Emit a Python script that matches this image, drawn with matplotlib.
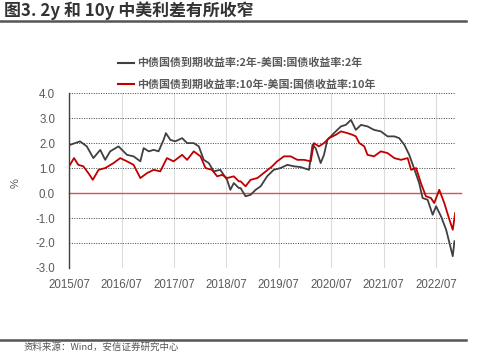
import numpy as np
import pandas as pd
import matplotlib
matplotlib.use("Agg")
import matplotlib.pyplot as plt
import matplotlib.dates as mdates
from matplotlib.lines import Line2D

plt.rcParams['font.family'] = ['Noto Sans CJK SC', 'DejaVu Sans']

# 中美2年期利差 (%)
dates_2y = ['2015-07-08', '2015-09-16', '2015-11-02', '2015-12-18', '2016-02-04', '2016-03-09',
            '2016-04-13', '2016-06-10', '2016-08-08', '2016-09-23', '2016-11-09', '2016-12-02',
            '2017-01-07', '2017-02-10', '2017-03-16', '2017-04-20', '2017-05-06', '2017-06-06',
            '2017-07-10', '2017-08-27', '2017-10-01', '2017-11-16', '2017-12-21', '2018-01-25',
            '2018-03-01', '2018-04-04', '2018-05-20', '2018-07-06', '2018-07-29', '2018-08-22',
            '2018-09-26', '2018-10-08', '2018-11-12', '2018-12-17', '2019-01-21', '2019-02-25',
            '2019-04-11', '2019-05-27', '2019-07-13', '2019-08-30', '2019-10-15', '2019-12-01',
            '2020-01-28', '2020-02-21', '2020-03-14', '2020-04-18', '2020-05-11', '2020-06-04',
            '2020-07-20', '2020-09-06', '2020-10-10', '2020-11-15', '2020-12-19', '2021-01-24',
            '2021-03-10', '2021-04-25', '2021-06-11', '2021-07-28', '2021-09-13', '2021-10-17',
            '2021-11-22', '2021-12-26', '2022-02-01', '2022-03-05', '2022-03-29', '2022-05-03',
            '2022-06-07', '2022-07-01', '2022-08-04', '2022-09-09', '2022-10-02', '2022-10-25',
            '2022-11-06']
spread_2y = [1.93, 2.07, 1.87, 1.40, 1.73, 1.33,
             1.67, 1.87, 1.53, 1.47, 1.27, 1.80,
             1.67, 1.73, 1.67, 2.13, 2.40, 2.13,
             2.07, 2.20, 2.00, 2.00, 1.87, 1.33,
             1.20, 0.87, 0.93, 0.53, 0.13, 0.40,
             0.20, 0.20, -0.13, -0.07, 0.13, 0.27,
             0.67, 0.93, 1.00, 1.13, 1.07, 1.04,
             0.93, 1.93, 1.80, 1.20, 1.53, 2.13,
             2.40, 2.67, 2.73, 2.93, 2.53, 2.73,
             2.67, 2.53, 2.47, 2.27, 2.27, 2.20,
             1.93, 1.53, 0.93, 0.40, -0.20, -0.27,
             -0.87, -0.53, -0.93, -1.47, -2.00, -2.53,
             -1.93]

# 中美10年期利差 (%)
dates_10y = ['2015-07-08', '2015-08-05', '2015-09-04', '2015-10-09', '2015-11-13', '2015-12-14',
             '2016-01-23', '2016-03-09', '2016-05-06', '2016-06-22', '2016-08-08', '2016-09-23',
             '2016-11-09', '2016-12-26', '2017-02-10', '2017-03-28', '2017-05-13', '2017-06-29',
             '2017-08-27', '2017-10-01', '2017-11-16', '2018-01-02', '2018-02-06', '2018-03-23',
             '2018-04-28', '2018-06-02', '2018-07-06', '2018-08-22', '2018-09-26', '2018-10-08',
             '2018-11-12', '2018-12-17', '2019-02-02', '2019-03-18', '2019-05-16', '2019-06-20',
             '2019-08-06', '2019-09-22', '2019-11-08', '2019-12-24', '2020-02-09', '2020-03-02',
             '2020-04-06', '2020-05-11', '2020-06-15', '2020-08-01', '2020-09-06', '2020-10-22',
             '2020-11-27', '2020-12-19', '2021-01-12', '2021-02-16', '2021-03-10', '2021-04-25',
             '2021-06-11', '2021-07-28', '2021-09-13', '2021-10-29', '2021-12-15', '2022-01-08',
             '2022-02-12', '2022-03-17', '2022-04-21', '2022-05-26', '2022-06-18', '2022-07-23',
             '2022-08-27', '2022-10-02', '2022-10-25', '2022-11-11']
spread_10y = [1.13, 1.40, 1.13, 1.07, 0.80, 0.53,
              0.93, 1.00, 1.20, 1.40, 1.27, 1.13,
              0.60, 0.80, 0.93, 0.87, 1.40, 1.27,
              1.53, 1.33, 1.67, 1.47, 1.00, 0.93,
              0.67, 0.73, 0.60, 0.67, 0.47, 0.47,
              0.27, 0.53, 0.60, 0.80, 1.07, 1.27,
              1.47, 1.47, 1.33, 1.33, 1.27, 2.00,
              1.87, 2.00, 2.20, 2.33, 2.47, 2.40,
              2.33, 2.27, 2.00, 1.87, 1.53, 1.47,
              1.67, 1.60, 1.40, 1.33, 1.40, 0.93,
              1.00, 0.40, -0.13, -0.20, -0.40, 0.13,
              -0.40, -1.07, -1.47, -0.80]

labels = ['中债国债到期收益率:2年-美国:国债收益率:2年',
          '中债国债到期收益率:10年-美国:国债收益率:10年']
tick_dates = ['2015-07-01', '2016-07-01', '2017-07-01', '2018-07-01',
              '2019-07-01', '2020-07-01', '2021-07-01', '2022-07-01']
tick_labels = ['2015/07', '2016/07', '2017/07', '2018/07',
               '2019/07', '2020/07', '2021/07', '2022/07']
yticks = [-3, -2, -1, 0, 1, 2, 3, 4]

fig = plt.figure(figsize=(4.79, 3.53), dpi=100)
ax = fig.add_axes([0.144, 0.241, 0.806, 0.495])

c_black = '#404040'
c_red = '#C00000'
ax.plot(pd.to_datetime(dates_2y), spread_2y, color=c_black, lw=1.3, zorder=3)
ax.plot(pd.to_datetime(dates_10y), spread_10y, color=c_red, lw=1.3, zorder=4)
ax.axhline(0, xmin=0, xmax=1.015, color='#E05050', lw=1.0, clip_on=False, zorder=2)

ax.set_xlim(pd.Timestamp('2015-07-01'), pd.Timestamp('2022-11-10'))
ax.set_ylim(-3, 4)
ax.set_yticks(yticks)
ax.set_yticklabels([f'{v:.1f}' for v in yticks])
ax.set_xticks(pd.to_datetime(tick_dates))
ax.set_xticklabels(tick_labels)

for v in yticks:
    if v != 0:
        ax.axhline(v, color='#404040', lw=0.7, ls=(0, (1, 1.5)), zorder=1)
for d in tick_dates[1:]:
    ax.axvline(pd.Timestamp(d), color='#dcdcdc', lw=0.8, zorder=0)

for s in ['top', 'right', 'bottom']:
    ax.spines[s].set_visible(False)
ax.spines['left'].set_color('#404040')
ax.spines['left'].set_linewidth(1.0)
ax.tick_params(axis='both', length=0, labelsize=8.3, labelcolor='#595959')
ax.tick_params(axis='x', pad=8)
ax.tick_params(axis='y', pad=10)
for lab in ax.get_xticklabels() + ax.get_yticklabels():
    lab.set_family('Liberation Sans')

fig.text(0.032, 0.48, '%', rotation=90, fontsize=8, color='#595959',
         ha='center', va='center', family='Liberation Sans')

handles = [Line2D([0], [0], color=c_black, lw=1.5),
           Line2D([0], [0], color=c_red, lw=1.5)]
leg = fig.legend(handles, labels, loc='upper left', bbox_to_anchor=(0.238, 0.848),
                 frameon=False, fontsize=7.9, handlelength=1.4, handletextpad=0.3,
                 labelspacing=1.0, borderaxespad=0)
for t in leg.get_texts():
    t.set_color('#595959')
    t.set_fontweight('bold')

fig.text(0.008, 0.97, '图3. 2y 和 10y 中美利差有所收窄', fontsize=12.2, fontweight='bold',
         color='#333333', ha='left', va='center')
fig.add_artist(Line2D([0, 0.973], [0.94, 0.94], color='#555555', lw=1.8))
fig.add_artist(Line2D([0, 0.973], [0.036, 0.036], color='#555555', lw=1.8))
fig.text(0.05, 0.003, '资料来源：Wind，安信证券研究中心', fontsize=6.8, color='#555555',
         style='italic', ha='left', va='bottom')

fig.savefig('out.png', dpi=100)
